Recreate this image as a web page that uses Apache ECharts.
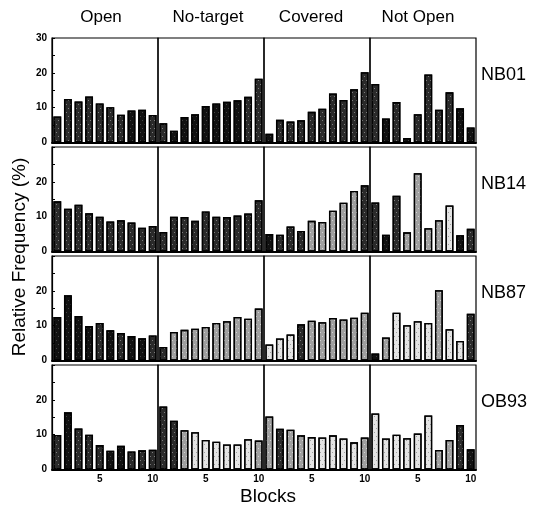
<!DOCTYPE html>
<html><head><meta charset="utf-8">
<script src="https://cdn.jsdelivr.net/npm/echarts@6/dist/echarts.min.js"></script>
<style>html,body{margin:0;padding:0;background:#fff}#c{width:540px;height:513px}</style>
</head><body><div id="c"></div>
<script>
// ---- data ----
const blocks = ['1','2','3','4','5','6','7','8','9','10'];
const subjects = ['NB01','NB14','NB87','OB93'];
const conditions = ['Open','No-target','Covered','Not Open'];
const yTicks = [0,10,20,30];
const xTickLabels = ['5','10'];

const NB01_open     = [7.5,12.5,11.8,13.2,11.2,10.1,8.0,9.2,9.4,7.9];
const NB01_notarget = [5.5,3.4,7.3,8.1,10.5,11.2,11.7,12.1,13.1,18.3];
const NB01_covered  = [2.5,6.5,6.0,6.4,8.8,9.7,14.1,12.2,15.3,20.2];
const NB01_notopen  = [16.8,6.9,11.6,1.3,8.1,19.5,9.4,14.4,9.8,4.3];

const NB14_open     = [14.4,12.3,13.4,11.0,10.0,8.6,9.0,8.3,6.8,7.3];
const NB14_notarget = [5.6,10.0,9.9,8.8,11.5,10.0,9.9,10.3,10.9,14.7];
const NB14_covered  = [5.0,4.8,7.2,5.9,8.8,8.5,11.7,14.0,17.4,19.0];
const NB14_notopen  = [14.1,4.8,16.0,5.5,22.5,6.7,9.0,13.2,4.7,6.5];

const NB87_open     = [12.5,18.7,12.8,9.9,10.8,8.7,7.9,7.0,6.4,7.2];
const NB87_notarget = [3.9,8.2,8.8,9.1,9.6,10.8,11.3,12.5,12.0,14.9];
const NB87_covered  = [4.6,6.3,7.5,10.4,11.4,11.0,12.2,11.8,12.3,13.7];
const NB87_notopen  = [2.0,6.6,13.7,10.1,11.3,10.8,20.2,9.0,5.6,13.4];

const OB93_open     = [9.9,16.4,11.8,10.0,7.0,5.4,6.8,5.2,5.5,5.7];
const OB93_notarget = [18.1,14.0,11.3,10.7,8.5,8.0,7.2,7.2,8.7,8.3];
const OB93_covered  = [15.2,11.7,11.4,9.8,9.3,9.2,9.8,8.9,7.8,9.2];
const OB93_notopen  = [16.1,8.9,10.0,9.0,10.3,15.5,5.6,8.5,12.8,5.8];

const panels = [
  [NB01_open, NB01_notarget, NB01_covered, NB01_notopen],
  [NB14_open, NB14_notarget, NB14_covered, NB14_notopen],
  [NB87_open, NB87_notarget, NB87_covered, NB87_notopen],
  [OB93_open, OB93_notarget, OB93_covered, OB93_notopen]
];

// ---- style (bar fill shade: 0 black .. 3 light) ----
const shadeColors = ['#111111','#2a2a2a','#a0a0a0','#e4e4e4'];
const speckColors = ['rgba(255,255,255,0.22)','rgba(255,255,255,0.4)','rgba(255,255,255,0.55)','rgba(0,0,0,0.3)'];
const shades = [
  [[1,1,1,1,1,1,1,0,0,1],[1,0,0,0,0,0,0,0,1,1],[0,1,1,1,1,1,1,1,1,1],[1,0,1,0,1,1,1,1,0,0]],
  [[1,1,1,1,1,1,1,1,1,1],[1,1,1,1,1,1,1,1,1,1],[0,1,1,1,2,2,2,2,2,1],[1,0,1,2,2,2,2,3,0,1]],
  [[0,0,0,0,1,0,1,0,0,1],[1,2,2,2,2,2,2,2,2,2],[3,3,3,1,2,2,2,2,2,2],[0,2,3,3,3,3,2,3,3,1]],
  [[1,0,1,1,1,0,0,1,1,1],[1,1,2,3,3,3,3,3,3,2],[2,1,2,2,3,3,3,3,3,2],[3,3,3,3,3,3,2,2,1,0]]
];

// ---- layout ----
const L0 = 52, PW = 106, T0 = 38, RP = 109, PH = 104.5;
const FONT = '"Liberation Sans", Arial, sans-serif';

const grid = [], xAxis = [], yAxis = [], series = [];
for (let r = 0; r < 4; r++) {
  for (let c = 0; c < 4; c++) {
    const i = r * 4 + c;
    grid.push({ left: L0 + c * PW, top: T0 + r * RP, width: PW, height: PH,
      show: true, borderColor: '#000', borderWidth: 1.2, backgroundColor: 'transparent' });
    xAxis.push({ type: 'category', gridIndex: i, data: blocks,
      axisLine: { show: true, lineStyle: { color: '#000', width: 2 } },
      axisTick: { show: false },
      axisLabel: { show: r === 3, interval: (idx) => xTickLabels.includes(blocks[idx]),
        color: '#000', fontFamily: FONT, fontWeight: 'bold', fontSize: 10, margin: 5 },
      splitLine: { show: false } });
    yAxis.push({ type: 'value', gridIndex: i, min: yTicks[0], max: yTicks[yTicks.length-1], interval: 10,
      axisLine: { show: c === 0, lineStyle: { color: '#000', width: 1.2 } },
      axisTick: { show: c === 0, inside: true, length: 3, lineStyle: { color: '#000' } },
      minorTick: { show: c === 0, splitNumber: 2, length: 3, lineStyle: { color: '#000' } },
      axisLabel: { show: c === 0, color: '#000', fontFamily: FONT, fontWeight: 'bold', fontSize: 10, margin: 5,
        formatter: (v) => (r > 0 && v === 30) ? '' : String(v) },
      splitLine: { show: false } });
    series.push({ type: 'bar', xAxisIndex: i, yAxisIndex: i, barWidth: '74%',
      data: panels[r][c].map((v, k) => {
        const s = shades[r][c][k];
        return { value: v, itemStyle: { color: shadeColors[s], borderColor: '#000', borderWidth: 1.3,
          decal: { symbol: 'rect', symbolSize: 1, color: speckColors[s],
            dashArrayX: [[1, 3], [0, 2, 1, 1]], dashArrayY: [1, 3], rotation: 0 } } };
      }),
      silent: true, animation: false });
  }
}

const graphic = [];
const colTitleX = [101, 208, 311, 418];
conditions.forEach((t, c) => graphic.push({ type: 'text', x: colTitleX[c], y: 17,
  style: { text: t, fontFamily: FONT, fontSize: 17, fill: '#000', textAlign: 'center', textVerticalAlign: 'middle' } }));
subjects.forEach((t, r) => graphic.push({ type: 'text', x: 481, y: 75 + r * RP,
  style: { text: t, fontFamily: FONT, fontSize: 18, fill: '#000', textAlign: 'left', textVerticalAlign: 'middle' } }));
graphic.push({ type: 'text', x: 20, y: 257, rotation: Math.PI / 2,
  style: { text: 'Relative Frequency (%)', fontFamily: FONT, fontSize: 19, fill: '#000', textAlign: 'center', textVerticalAlign: 'middle' } });
graphic.push({ type: 'text', x: 268, y: 497,
  style: { text: 'Blocks', fontFamily: FONT, fontSize: 19, fill: '#000', textAlign: 'center', textVerticalAlign: 'middle' } });

const chart = echarts.init(document.getElementById('c'), null, { renderer: 'canvas' });
chart.setOption({ animation: false, backgroundColor: '#fff', grid, xAxis, yAxis, series, graphic });
</script></body></html>
